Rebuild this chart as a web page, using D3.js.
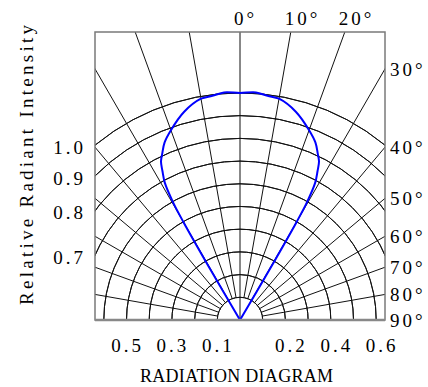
<!DOCTYPE html>
<html lang="en">
<head>
  <meta charset="UTF-8">
  <title>Radiation Diagram</title>
  <script src="https://d3js.org/d3.v7.min.js"></script>
  <style>
    body { margin: 0; background: #fff; }
    text {
      font-family: "Liberation Serif", "DejaVu Serif", serif;
      font-size: 19px;
      letter-spacing: 3px;
      fill: #000;
    }
  </style>
</head>
<body>
  <svg width="428" height="387"></svg>

  <script>
    // rings of relative intensity, spokes in degrees
    const rings = [0.1, 0.2, 0.3, 0.4, 0.5, 0.6, 0.7, 0.8, 0.9, 1.0];
    const spokes = [-90, -80, -70, -60, -50, -40, -30, -20, -10, 0, 10, 20, 30, 40, 50, 60, 70, 80, 90];

    // labels
    const topAngles = [0, 10, 20];
    const rightAngles = [30, 40, 50, 60, 70, 80, 90];
    const leftRings = [1.0, 0.9, 0.8, 0.7];
    const bottomLeft = [0.5, 0.3, 0.1];
    const bottomRight = [0.2, 0.4, 0.6];

    // measured half pattern (symmetric), angle in degrees -> relative intensity
    const halfAngles = [0, 4, 7, 10, 15, 20, 23, 25, 26.5, 27.5, 28.7, 29.6, 30, 30.4, 30.6];
    const halfIntensity = [1.0, 1.005, 0.995, 0.99, 0.95, 0.89, 0.85, 0.81, 0.78, 0.74, 0.69, 0.6, 0.5, 0.25, 0];

    const svg = d3.select("svg");
    const cx = 240, cy = 320;
    const box = { x0: 95, y0: 32, x1: 385, y1: 320 };

    const r = d3.scaleLinear().domain([0, 1]).range([0, 227]);
    const rad = d => d * Math.PI / 180;

    svg.append("clipPath").attr("id", "clip")
      .append("rect")
      .attr("x", box.x0).attr("y", box.y0)
      .attr("width", box.x1 - box.x0).attr("height", box.y1 - box.y0);

    const g = svg.append("g").attr("clip-path", "url(#clip)");
    const grid = g.append("g").attr("transform", `translate(${cx},${cy})`);

    // arcs
    grid.selectAll("path.ring")
      .data(rings)
      .enter().append("path")
      .attr("class", "ring")
      .attr("d", d => d3.arc()({ innerRadius: r(d), outerRadius: r(d), startAngle: -Math.PI / 2, endAngle: Math.PI / 2 }))
      .attr("fill", "none")
      .attr("stroke", "#111")
      .attr("stroke-width", 1);

    // spokes (0 deg runs to the centre, the rest start at the 0.1 ring)
    grid.selectAll("line.spoke")
      .data(spokes)
      .enter().append("line")
      .attr("x1", d => (d === 0 ? 0 : r(0.1)) * Math.sin(rad(d)))
      .attr("y1", d => -(d === 0 ? 0 : r(0.1)) * Math.cos(rad(d)))
      .attr("x2", d => 600 * Math.sin(rad(d)))
      .attr("y2", d => -600 * Math.cos(rad(d)))
      .attr("stroke", "#111")
      .attr("stroke-width", 1);

    // pattern curve
    const pts = [];
    for (let i = halfAngles.length - 1; i > 0; i--) pts.push([-halfAngles[i], halfIntensity[i]]);
    for (let i = 0; i < halfAngles.length; i++) pts.push([halfAngles[i], halfIntensity[i]]);

    const curve = d3.lineRadial()
      .angle(d => rad(d[0]))
      .radius(d => r(d[1]))
      .curve(d3.curveCatmullRom);

    grid.append("path")
      .datum(pts)
      .attr("d", curve)
      .attr("fill", "none")
      .attr("stroke", "#0000ff")
      .attr("stroke-width", 2);

    // frame
    svg.append("rect")
      .attr("x", box.x0).attr("y", box.y0)
      .attr("width", box.x1 - box.x0).attr("height", box.y1 - box.y0)
      .attr("fill", "none")
      .attr("stroke", "#7a7a7a")
      .attr("stroke-width", 1.5);
    svg.append("line")
      .attr("x1", box.x0).attr("x2", box.x1)
      .attr("y1", box.y1).attr("y2", box.y1)
      .attr("stroke", "#888")
      .attr("stroke-width", 2.5);

    // top angle labels
    svg.selectAll("text.top")
      .data(topAngles)
      .enter().append("text")
      .attr("x", d => cx + (cy - box.y0) * Math.tan(rad(d)) - 6)
      .attr("y", 25)
      .text(d => d + "°");

    // right angle labels
    svg.selectAll("text.right")
      .data(rightAngles)
      .enter().append("text")
      .attr("x", box.x1 + 5)
      .attr("y", d => cy - (box.x1 - cx) / Math.tan(rad(d)))
      .attr("dy", "0.35em")
      .text(d => d + "°");

    // left intensity labels
    svg.selectAll("text.left")
      .data(leftRings)
      .enter().append("text")
      .attr("x", 86)
      .attr("y", d => cy - Math.sqrt(r(d) ** 2 - (cx - box.x0) ** 2) + 2)
      .attr("dy", "0.35em")
      .attr("text-anchor", "end")
      .text(d => d3.format(".1f")(d));

    // bottom labels
    svg.selectAll("text.bl")
      .data(bottomLeft)
      .enter().append("text")
      .attr("x", d => cx - r(d) + 1)
      .attr("y", 352)
      .attr("text-anchor", "middle")
      .text(d => d3.format(".1f")(d));
    svg.selectAll("text.br")
      .data(bottomRight)
      .enter().append("text")
      .attr("x", d => cx + r(d) + 6)
      .attr("y", 352)
      .attr("text-anchor", "middle")
      .text(d => d3.format(".1f")(d));

    // titles
    svg.append("text")
      .attr("transform", "translate(33,165) rotate(-90)")
      .attr("text-anchor", "middle")
      .attr("textLength", 280)
      .attr("lengthAdjust", "spacing")
      .style("font-size", "19px")
      .style("letter-spacing", "0px")
      .text("Relative Radiant Intensity");

    svg.append("text")
      .attr("x", 140)
      .attr("y", 382)
      .attr("textLength", 193)
      .attr("lengthAdjust", "spacing")
      .style("font-size", "18px")
      .style("letter-spacing", "0px")
      .text("RADIATION DIAGRAM");
  </script>
</body>
</html>
